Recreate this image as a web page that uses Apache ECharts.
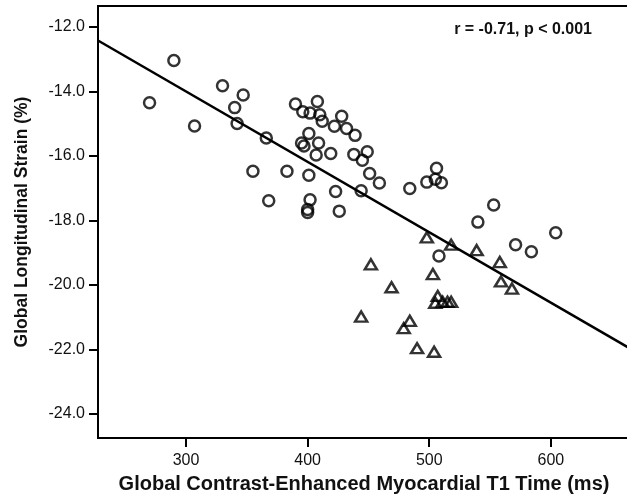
<!DOCTYPE html>
<html>
<head>
  <meta charset="utf-8">
  <title>T1 time vs GLS</title>
  <style type="text/css">
    html, body { margin: 0; padding: 0; background: #fff; }
    #main { width: 627px; height: 499px; }
  </style>
</head>
<body>
<div id="main"></div>
<script type="text/javascript" src="https://cdn.jsdelivr.net/npm/echarts@6/dist/echarts.min.js"></script>
<script type="text/javascript">
  // circles: [T1 time (ms), GLS (%)]
  var circlePoints = [
    [270, -14.35], [290, -13.04], [307, -15.07], [330, -13.82], [347, -14.11],
    [340, -14.50], [342, -14.99], [355, -16.47], [368, -17.39], [366, -15.44],
    [383, -16.47], [390, -14.39], [408, -14.31], [396, -14.63], [402, -14.67],
    [410, -14.72], [412, -14.92], [428, -14.77], [422, -15.08], [432, -15.15],
    [439, -15.36], [401, -15.30], [395, -15.60], [397, -15.69], [409, -15.60],
    [407, -15.97], [419, -15.92], [438, -15.95], [449, -15.87], [445, -16.13],
    [401, -16.60], [451, -16.54], [459, -16.84], [423, -17.10], [444, -17.08],
    [484, -17.01], [506, -16.38], [498, -16.81], [505, -16.72], [510, -16.83],
    [402, -17.36], [400, -17.66], [400, -17.75], [426, -17.71], [508, -19.10],
    [553, -17.52], [540, -18.05], [604, -18.38], [571, -18.75], [584, -18.97]
  ];
  // triangles: [T1 time (ms), GLS (%)]
  var trianglePoints = [
    [498, -18.52], [518, -18.75], [539, -18.92], [558, -19.29], [559, -19.89],
    [568, -20.11], [452, -19.36], [503, -19.66], [469, -20.07], [507, -20.34],
    [505, -20.55], [511, -20.52], [515, -20.52], [518, -20.52], [444, -20.98],
    [484, -21.11], [479, -21.34], [490, -21.96], [504, -22.07]
  ];
  var xTicks = [300, 400, 500, 600];
  var yTicks = [-24, -22, -20, -18, -16, -14, -12];
  var fitIntercept = -7.45;
  var fitSlope = -0.02183;
  var xMin = 227.6, xMax = 665.1;
  var yMin = -24.744, yMax = -11.349;

  var fitLine = [xMin, xMax].map(function (x) {
    return [x, fitIntercept + fitSlope * x];
  });

  var myChart = echarts.init(document.getElementById('main'));
  var option = {
    backgroundColor: '#fff',
    animation: false,
    grid: {
      left: 98, top: 6, right: -3, bottom: 61,
      outerBoundsMode: 'none',
      containLabel: false,
      show: true, borderColor: '#000', borderWidth: 2
    },
    xAxis: {
      type: 'value',
      min: xMin, max: xMax,
      name: 'Global Contrast-Enhanced Myocardial T1 Time (ms)',
      nameLocation: 'middle',
      nameGap: 36,
      nameTextStyle: { fontFamily: 'Liberation Sans', fontWeight: 'bold', fontSize: 20, color: '#111' },
      axisLine: { lineStyle: { color: '#000', width: 2 } },
      axisTick: { show: true, inside: false, length: 9, lineStyle: { color: '#000', width: 2 }, customValues: xTicks },
      axisLabel: { customValues: xTicks, margin: 15, fontFamily: 'Liberation Sans', fontSize: 16, color: '#111' },
      splitLine: { show: false }
    },
    yAxis: {
      type: 'value',
      min: yMin, max: yMax,
      name: 'Global Longitudinal Strain (%)',
      nameLocation: 'middle',
      nameGap: 67,
      nameTextStyle: { fontFamily: 'Liberation Sans', fontWeight: 'bold', fontSize: 17.5, color: '#111' },
      axisLine: { lineStyle: { color: '#000', width: 2 } },
      axisTick: { show: true, inside: false, length: 9, lineStyle: { color: '#000', width: 2 }, customValues: yTicks },
      axisLabel: {
        customValues: yTicks, margin: 13, fontFamily: 'Liberation Sans', fontSize: 16, color: '#111',
        formatter: function (v) { return v.toFixed(1); }
      },
      splitLine: { show: false }
    },
    graphic: [{
      type: 'text',
      right: 35, top: 22,
      style: {
        text: 'r = -0.71, p < 0.001',
        fontFamily: 'Liberation Sans', fontWeight: 'bold', fontSize: 16, fill: '#111'
      }
    }],
    series: [
      {
        type: 'line',
        data: fitLine,
        symbol: 'none',
        lineStyle: { color: '#000', width: 2.5 },
        z: 1
      },
      {
        type: 'scatter',
        data: circlePoints,
        symbol: 'circle',
        symbolSize: 11,
        itemStyle: { color: 'transparent', borderColor: '#000', borderWidth: 2.5 },
        z: 2
      },
      {
        type: 'scatter',
        data: trianglePoints,
        symbol: 'triangle',
        symbolSize: [12, 10],
        itemStyle: { color: 'transparent', borderColor: '#000', borderWidth: 2.5 },
        z: 2
      }
    ]
  };
  myChart.setOption(option);
</script>
</body>
</html>
